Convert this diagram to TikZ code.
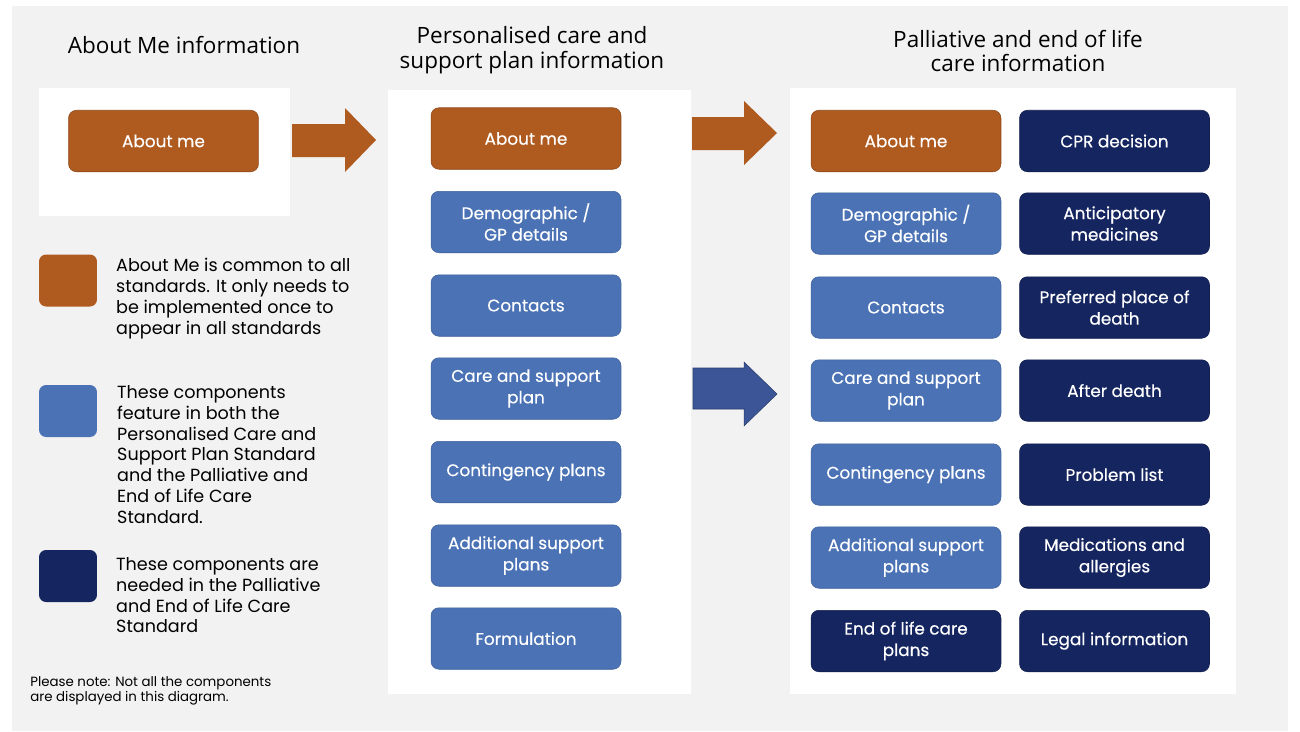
\documentclass[tikz,border=0pt]{standalone}
\usepackage{fontspec}
\setmainfont{Poppins}
\newfontfamily\titlefont{Open Sans}
\newfontfamily\boxfont{Poppins}[FakeBold=0.35]
\usepackage{xcolor}
\usepackage{tikz}
\usetikzlibrary{calc}
\definecolor{aborange}{RGB}{175,90,31}
\definecolor{compblue}{RGB}{74,114,181}
\definecolor{navyblue}{RGB}{21,37,96}
\definecolor{arrowblue}{RGB}{59,85,151}
\definecolor{bggray}{RGB}{242,242,242}

\begin{document}
\begin{tikzpicture}[x=0.02cm, y=-0.02cm,
  panel/.style={fill=white, inner sep=0pt},
  comp/.style={rounded corners=4.5pt, minimum width=3.8cm, minimum height=1.23cm,
               inner sep=2pt, text=white, align=center,
               font=\boxfont\fontsize{9.6}{12.2}\selectfont},
  mebox/.style={comp, fill=aborange, draw=aborange!80!black, line width=0.3pt},
  sharedbox/.style={comp, fill=compblue, draw=compblue!85!black, line width=0.3pt},
  pelcbox/.style={comp, fill=navyblue, draw=navyblue!80!black, line width=0.3pt},
  key/.style={rounded corners=4pt, minimum width=1.16cm, minimum height=1.04cm, inner sep=0pt},
  keytext/.style={anchor=north west, align=left, font=\fontsize{10}{11.9}\selectfont},
  heading/.style={align=center, font=\titlefont\fontsize{12.8}{14.2}\selectfont}]
  \useasboundingbox (0,0) rectangle (1300,731);
  \fill[bggray] (12,6) rectangle (1288,731);

  % headings
  \node[heading] (hleft) at (184,45) {About Me information};
  \node[heading] (hmid) at (532,50) {Personalised care and\\support plan information};
  \node[heading] (hright) at (1018,51) {Palliative and end of life\\care information};

  % white panels
  \node[panel, minimum width=5.02cm, minimum height=2.56cm] (pleft) at (164.5,152) {};
  \node[panel, minimum width=6.06cm, minimum height=12.08cm] (pmid) at (539.5,392) {};
  \node[panel, minimum width=8.92cm, minimum height=12.12cm] (pright) at (1013,391) {};

  % block arrows
  \fill[aborange] (292,124) -- (345,124) -- (345,108) -- (376,140) -- (345,172)
    -- (345,157) -- (292,157) -- cycle;
  \fill[aborange] (692,117) -- (744,117) -- (744,101) -- (777,133) -- (744,165)
    -- (744,150) -- (692,150) -- cycle;
  \fill[arrowblue, draw=arrowblue!70!black, line width=0.3pt] (693,368) -- (744,368)
    -- (744,362) -- (777,394) -- (744,426) -- (744,409) -- (693,409) -- cycle;

  % About Me information
  \node[mebox] (lme) at (163.5,141) {About me};

  % Personalised care and support plan
  \node[mebox] (mme) at (526,138.5) {About me};
  \node[sharedbox] (mdemo) at (526,222) {Demographic /\\GP details};
  \node[sharedbox] (mcont) at (526,305.5) {Contacts};
  \node[sharedbox] (mcare) at (526,388.5) {Care and support\\plan};
  \node[sharedbox] (mconting) at (526,472) {Contingency plans};
  \node[sharedbox] (maddit) at (526,555.5) {Additional support\\plans};
  \node[sharedbox] (mform) at (526,638.5) {Formulation};

  % Palliative and end of life care
  \node[mebox] (rme) at (906,141) {About me};
  \node[sharedbox] (rdemo) at (906,223.5) {Demographic /\\GP details};
  \node[sharedbox] (rcont) at (906,307.5) {Contacts};
  \node[sharedbox] (rcare) at (906,390.5) {Care and support\\plan};
  \node[sharedbox] (rconting) at (906,474.5) {Contingency plans};
  \node[sharedbox] (raddit) at (906,557.5) {Additional support\\plans};
  \node[pelcbox] (reol) at (906,641) {End of life care\\plans};
  \node[pelcbox] (rcpr) at (1114.5,141) {CPR decision};
  \node[pelcbox] (rantic) at (1114.5,223.5) {Anticipatory\\medicines};
  \node[pelcbox] (rplace) at (1114.5,307.5) {Preferred place of\\death};
  \node[pelcbox] (rafter) at (1114.5,390.5) {After death};
  \node[pelcbox] (rprob) at (1114.5,474.5) {Problem list};
  \node[pelcbox] (rmeds) at (1114.5,557.5) {Medications and\\allergies};
  \node[pelcbox] (rlegal) at (1114.5,641) {Legal information};

  % key
  \node[key, fill=aborange] (kme) at (68,280.5) {};
  \node[keytext] (tme) at (110,252) {About Me is common to all\\standards. It only needs to\\be implemented once to\\appear in all standards};
  \node[key, fill=compblue] (kshared) at (68,411) {};
  \node[keytext] (tshared) at (111,379) {These components\\feature in both the\\Personalised Care and\\Support Plan Standard\\and the Palliative and\\End of Life Care\\Standard.};
  \node[key, fill=navyblue] (kpelc) at (68,576) {};
  \node[keytext] (tpelc) at (110,551) {These components are\\needed in the Palliative\\and End of Life Care\\Standard};

  \node[anchor=north west, align=left, font=\fontsize{7.6}{8.5}\selectfont, inner sep=0pt]
    (note) at (30,676) {Please note: Not all the components\\are displayed in this diagram.};
\end{tikzpicture}
\end{document}
